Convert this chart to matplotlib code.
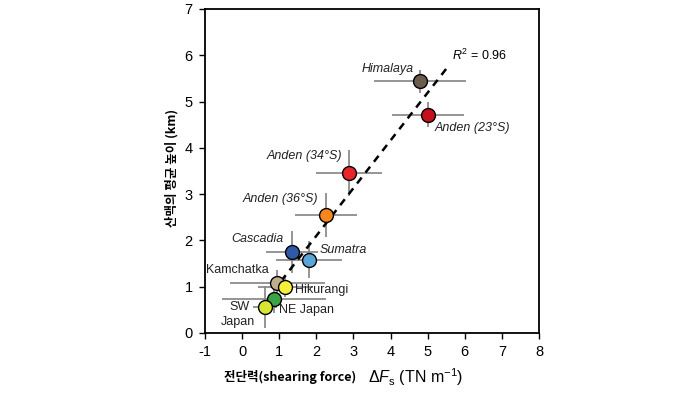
import numpy as np
import matplotlib.pyplot as plt

plt.rcParams['font.family'] = ['Liberation Sans', 'DejaVu Sans']
plt.rcParams['mathtext.fontset'] = 'custom'
plt.rcParams['mathtext.rm'] = 'Liberation Sans'
plt.rcParams['mathtext.it'] = 'Liberation Sans:italic'
plt.rcParams['axes.unicode_minus'] = False

# data
names = ["Himalaya", "Anden (23°S)", "Anden (34°S)", "Anden (36°S)", "Cascadia",
         "Sumatra", "Kamchatka", "Hikurangi", "NE Japan", "SW Japan"]
dF = [4.80, 5.01, 2.88, 2.26, 1.35, 1.80, 0.94, 1.16, 0.86, 0.62]
dF_err = [1.24, 0.97, 0.90, 0.83, 0.70, 0.90, 1.28, 0.74, 1.41, 0.33]
height = [5.44, 4.71, 3.46, 2.55, 1.75, 1.58, 1.08, 0.99, 0.73, 0.56]
height_err = [0.25, 0.27, 0.50, 0.47, 0.46, 0.40, 0.28, 0.22, 0.30, 0.45]
colors = ["#6b5c4c", "#c4101c", "#e8262a", "#f7861e", "#2f5aa8",
          "#5aa6d6", "#bfae8e", "#f4f03a", "#3aa444", "#d6e632"]
fit_x = [1.05, 5.58]
fit_y = [1.12, 5.79]
r2 = 0.96

fig = plt.figure(figsize=(6.99, 3.93), dpi=100)
ax = fig.add_axes([0.2933, 0.1527, 0.4778, 0.8244])

ax.plot(fit_x, fit_y, ls=(0, (3, 2.5)), color="black", lw=1.8, zorder=2)

for i in range(len(names)):
    ax.errorbar(dF[i], height[i], xerr=dF_err[i], yerr=height_err[i],
                fmt="none", ecolor="#8c8c8c", elinewidth=1.3, capsize=0, zorder=1)
    ax.plot(dF[i], height[i], "o", ms=10, mfc=colors[i], mec="black", mew=1.0, zorder=3)

lbl = dict(fontsize=9, color="#222222")
ax.text(4.63, 5.70, "Himalaya", ha="right", va="center", style="italic", **lbl)
ax.text(5.20, 4.43, "Anden (23°S)", ha="left", va="center", style="italic", **lbl)
ax.text(2.69, 3.82, "Anden (34°S)", ha="right", va="center", style="italic", **lbl)
ax.text(2.05, 2.89, "Anden (36°S)", ha="right", va="center", style="italic", **lbl)
ax.text(1.13, 2.03, "Cascadia", ha="right", va="center", style="italic", **lbl)
ax.text(2.10, 1.79, "Sumatra", ha="left", va="center", style="italic", **lbl)
ax.text(0.73, 1.36, "Kamchatka", ha="right", va="center", **lbl)
ax.text(1.43, 0.93, "Hikurangi", ha="left", va="center", **lbl)
ax.text(0.99, 0.50, "NE Japan", ha="left", va="center", **lbl)
ax.text(0.21, 0.56, "SW", ha="right", va="center", **lbl)
ax.text(-0.11, 0.24, "Japan", ha="center", va="center", **lbl)
ax.text(5.66, 6.0, "$R^2$ = %.2f" % r2, ha="left", va="center", fontsize=9)

ax.set_xlim(-1, 8)
ax.set_ylim(0, 7)
ax.set_xticks(range(-1, 9))
ax.set_yticks(range(0, 8))
ax.tick_params(direction="out", length=4, width=1, labelsize=10.5, pad=5)
for s in ax.spines.values():
    s.set_linewidth(1.3)

ax.text(0.452, -0.136, "전단력(shearing force)", transform=ax.transAxes,
        ha="right", va="center", fontsize=9, fontweight="bold",
        family=["Noto Sans CJK KR", "DejaVu Sans"])
ax.text(0.488, -0.136, r"$\Delta F_{\rm s}$ (TN m$^{-1}$)", transform=ax.transAxes,
        ha="left", va="center", fontsize=11.5)
ax.text(-0.099, 0.51, "산맥의 평균 높이 (km)", transform=ax.transAxes, rotation=90,
        ha="center", va="center", fontsize=9, fontweight="bold",
        family=["Noto Sans CJK KR", "DejaVu Sans"])

fig.savefig("out.png", dpi=100)
